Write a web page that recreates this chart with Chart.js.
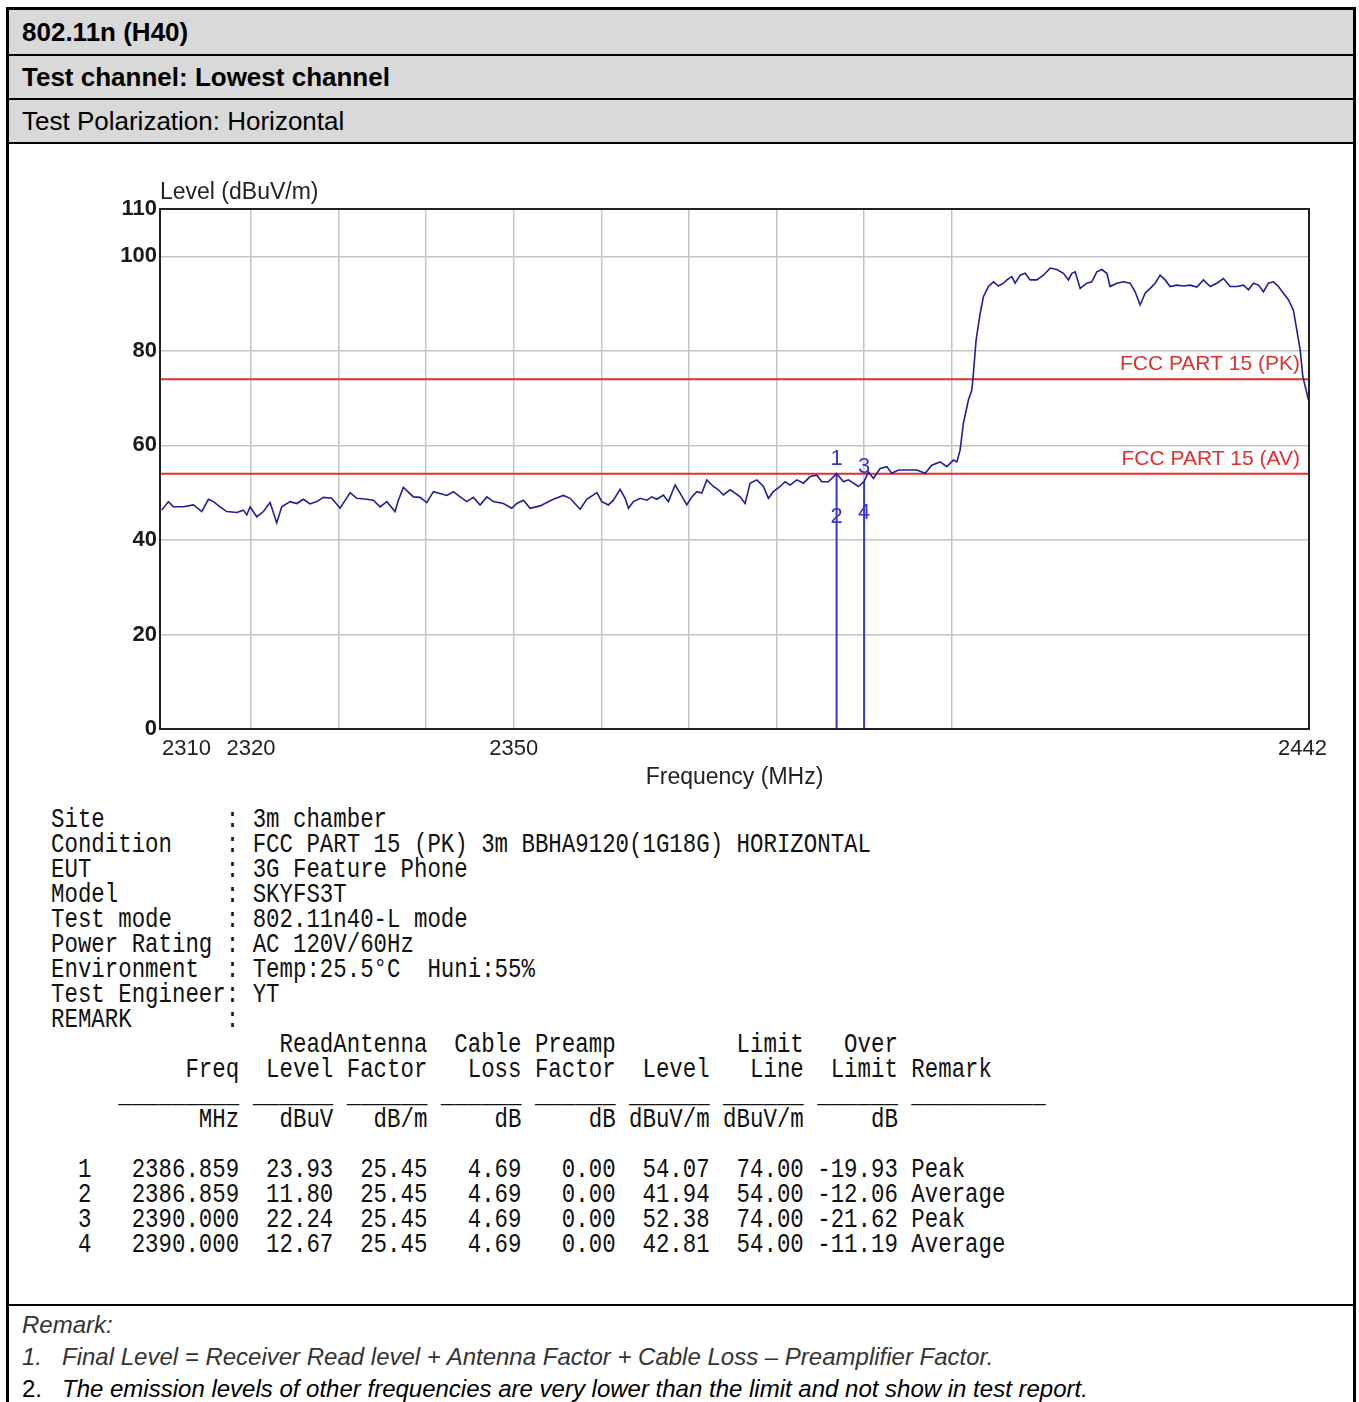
<!DOCTYPE html>
<html>
<head>
<meta charset="utf-8">
<script src="https://cdn.jsdelivr.net/npm/chart.js@4.4.1/dist/chart.umd.min.js"></script>
<style>
html,body{margin:0;padding:0;background:#fff;}
body{width:1359px;height:1402px;position:relative;overflow:hidden;font-family:"Liberation Sans",Arial,sans-serif;color:#000;}
.bar{position:absolute;background:#000;}
.gray{position:absolute;left:9px;width:1344px;background:#d9d9d9;box-sizing:border-box;padding-left:13px;font-size:26px;white-space:nowrap;}
#chartBox{position:absolute;left:0;top:150px;width:1359px;height:650px;}
#info{position:absolute;left:51px;top:807px;margin:0;font-family:"Liberation Mono",monospace;font-size:28px;line-height:25px;color:#111;transform:scaleX(0.8);transform-origin:0 0;white-space:pre;}
.rm{position:absolute;font-size:24px;font-style:italic;white-space:nowrap;line-height:30px;}
</style>
</head>
<body>
<div class="bar" style="left:6px;top:7px;width:3px;height:1395px;"></div>
<div class="bar" style="left:1353px;top:7px;width:3px;height:1395px;"></div>
<div class="bar" style="left:6px;top:7px;width:1350px;height:3px;"></div>
<div class="gray" style="top:10px;height:44px;line-height:44px;font-weight:bold;">802.11n (H40)</div>
<div class="bar" style="left:6px;top:54px;width:1350px;height:2px;"></div>
<div class="gray" style="top:56px;height:42px;line-height:42px;font-weight:bold;">Test channel: Lowest channel</div>
<div class="bar" style="left:6px;top:98px;width:1350px;height:2px;"></div>
<div class="gray" style="top:100px;height:42px;line-height:42px;">Test Polarization: Horizontal</div>
<div class="bar" style="left:6px;top:142px;width:1350px;height:2px;"></div>
<div class="bar" style="left:6px;top:1304px;width:1350px;height:2px;"></div>

<div id="chartBox"><canvas id="c" width="1359" height="650"></canvas></div>
<pre id="info"></pre>

<div class="rm" style="left:22px;top:1310px;color:#333;">Remark:</div>
<div class="rm" style="left:22px;top:1342px;color:#333;">1.</div>
<div class="rm" style="left:62px;top:1342px;color:#333;">Final Level = Receiver Read level + Antenna Factor + Cable Loss – Preamplifier Factor.</div>
<div class="rm" style="left:22px;top:1374px;font-style:normal;">2.</div>
<div class="rm" style="left:62px;top:1374px;">The emission levels of other frequencies are very lower than the limit and not show in test report.</div>

<script>
// ---------------- data ----------------
const freqs = [2309.80,2310.56,2311.13,2312.27,2313.41,2314.37,2315.13,2315.70,2316.46,2317.22,
2318.37,2319.12,2319.51,2319.89,2320.65,2321.41,2322.17,2322.93,2323.50,2324.45,
2325.22,2325.97,2326.74,2327.50,2328.26,2329.21,2330.16,2331.31,2332.07,2333.21,
2333.97,2334.73,2335.50,2336.44,2336.82,2337.39,2338.53,2339.30,2340.06,2340.82,
2341.58,2342.35,2343.10,2343.87,2344.63,2345.39,2346.15,2346.92,2347.67,2348.81,
2349.77,2350.34,2351.10,2351.86,2353.00,2353.77,2354.52,2355.66,2356.43,2357.57,
2358.33,2359.48,
2360.05,2360.80,2361.37,2362.14,2362.71,2363.09,2363.66,2364.42,2365.19,2365.76,
2366.33,2367.08,2367.65,2368.42,2368.99,2369.75,2370.33,2370.90,2371.47,2372.04,
2372.79,2373.36,2373.93,2374.70,2375.27,2375.84,2376.41,2376.98,2377.75,2378.50,
2379.07,2379.64,2380.41,2380.98,2381.55,2382.32,2383.07,2383.84,2384.60,2385.17,
2385.92,2386.69,2386.86,2387.64,2388.21,2388.78,2389.35,2390.00,2390.49,2391.06,
2391.83,2392.59,2393.16,2393.92,2394.88,2396.02,2396.97,2397.73,2398.68,2399.45,
2400.20,2400.59,
2400.96,2401.34,2401.91,2402.30,2402.48,2402.79,2403.25,2403.63,2404.20,2404.77,
2405.34,2405.91,2406.30,2406.87,2407.24,2407.82,2408.39,2408.96,2409.72,2410.48,
2411.24,2412.01,2412.76,2413.33,2413.72,2414.10,2414.67,2415.43,2416.00,2416.57,
2417.14,2417.72,2418.09,2418.86,2419.61,2420.38,2420.95,2421.52,2422.09,2422.66,
2423.23,2423.80,2424.37,2424.94,2425.71,2426.47,2427.23,2427.99,2428.75,2429.52,
2430.28,2431.03,2431.80,2432.56,2433.32,2433.89,2434.46,2435.03,2435.60,2436.17,
2436.74,2437.31,2437.88,2438.45,2439.02,2439.41,2439.79,2440.10,2440.47,2440.74];

const levels = [46.3,48.1,47.0,47.0,47.4,46.0,48.6,48.1,47.0,46.0,
45.8,46.3,45.3,47.0,44.9,46.0,47.9,43.6,47.0,48.1,
47.7,48.6,47.6,48.1,49.0,48.8,46.7,50.0,48.8,48.6,
48.4,47.0,48.1,46.0,48.4,51.1,49.1,49.0,47.9,50.2,
49.8,49.4,50.2,49.1,48.1,49.0,47.4,49.1,48.1,47.7,
46.7,47.7,48.4,46.7,47.2,47.9,48.6,49.4,48.8,46.5,
48.6,50.0,
48.1,47.4,48.4,50.7,48.8,46.7,48.1,48.8,48.4,49.1,
48.6,49.5,48.1,51.6,49.9,47.4,49.1,50.2,49.9,52.7,
51.3,50.6,49.5,50.6,49.9,49.1,47.7,52.0,52.7,51.3,
48.8,50.2,51.3,52.3,51.6,52.7,52.0,53.4,53.7,52.3,
52.3,53.7,54.07,52.3,52.7,52.0,51.3,52.38,54.4,53.0,
55.1,55.5,54.1,54.8,54.8,54.8,54.1,55.8,56.5,55.5,
56.9,56.5,
59.0,64.7,69.6,71.7,75.2,82.3,87.9,91.5,93.6,94.6,
93.7,94.3,95.0,95.7,94.3,96.0,96.4,95.0,95.0,96.0,
97.5,97.2,96.4,95.0,96.4,96.7,93.2,94.3,94.6,96.7,
97.2,96.4,93.6,94.3,94.6,94.3,92.5,89.7,92.2,93.2,
94.3,96.0,95.0,93.6,93.9,93.7,93.9,93.5,95.0,93.6,
94.3,95.3,93.6,93.6,93.9,92.9,94.3,93.9,92.5,94.3,
94.6,93.6,92.2,90.8,88.6,84.4,80.2,74.5,71.7,69.6];

const limitNames  = ['FCC PART 15 (PK)','FCC PART 15 (AV)'];
const limitValues = [74, 54];

const markerNo     = [1, 2, 3, 4];
const markerFreq   = [2386.859, 2386.859, 2390.000, 2390.000];
const markerRead   = [23.93, 11.80, 22.24, 12.67];
const markerAnt    = [25.45, 25.45, 25.45, 25.45];
const markerCable  = [4.69, 4.69, 4.69, 4.69];
const markerPreamp = [0.00, 0.00, 0.00, 0.00];
const markerLevel  = [54.07, 41.94, 52.38, 42.81];
const markerLimit  = [74.00, 54.00, 74.00, 54.00];
const markerOver   = [-19.93, -12.06, -21.62, -11.19];
const markerRemark = ['Peak','Average','Peak','Average'];

const xMin = 2309.6, xMax = 2440.8;
const gridFreqs = [2320,2330,2340,2350,2360,2370,2380,2390,2400];
const xLabelValues = [2310, 2320, 2350, 2442];
const xLabelTexts  = ['2310','2320','2350','2442'];
const yTicks = [0,20,40,60,80,100,110];
const yTitle = 'Level (dBuV/m)';
const xTitle = 'Frequency (MHz)';

const infoLines = [
 ['Site','3m chamber'],
 ['Condition','FCC PART 15 (PK) 3m BBHA9120(1G18G) HORIZONTAL'],
 ['EUT','3G Feature Phone'],
 ['Model','SKYFS3T'],
 ['Test mode','802.11n40-L mode'],
 ['Power Rating','AC 120V/60Hz'],
 ['Environment','Temp:25.5°C  Huni:55%'],
 ['Test Engineer','YT'],
 ['REMARK','']
];

// ---------------- text block ----------------
const SANS = '"Liberation Sans", Arial, sans-serif';
(function(){
  const L = [];
  infoLines.forEach(([k,v]) => L.push(k.padEnd(13) + ':' + (v ? ' ' + v : '')));
  L.push(' '.repeat(17) + 'ReadAntenna  Cable Preamp' + ' '.repeat(9) + 'Limit   Over');
  L.push(' '.repeat(10) + 'Freq  Level Factor   Loss Factor  Level   Line  Limit Remark');
  L.push(' '.repeat(5) + '_'.repeat(9) + (' ' + '_'.repeat(6)).repeat(7) + ' ' + '_'.repeat(10));
  L.push(' '.repeat(11) + 'MHz' + ['dBuV','dB/m','dB','dB','dBuV/m','dBuV/m','dB'].map(u => u.padStart(7)).join(''));
  L.push('');
  markerNo.forEach((n,i) => {
    const f = v => ' ' + v.toFixed(2).padStart(6);
    L.push('  ' + n + '   ' + markerFreq[i].toFixed(3) +
      f(markerRead[i]) + f(markerAnt[i]) + f(markerCable[i]) + f(markerPreamp[i]) +
      f(markerLevel[i]) + f(markerLimit[i]) + f(markerOver[i]) + ' ' + markerRemark[i]);
  });
  document.getElementById('info').textContent = L.join('\n');
})();

// ---------------- chart ----------------
const overlay = {
  id: 'overlay',
  afterDraw(chart) {
    const {ctx, chartArea: a, scales: {x, y}} = chart;
    ctx.save();
    ctx.strokeStyle = '#222'; ctx.lineWidth = 2;
    ctx.strokeRect(a.left, a.top, a.right - a.left, a.bottom - a.top);

    ctx.fillStyle = '#222'; ctx.textBaseline = 'middle';
    ctx.font = '23px ' + SANS; ctx.textAlign = 'left';
    ctx.fillText(yTitle, a.left, a.top - 16);

    ctx.font = '22px ' + SANS;
    xLabelValues.forEach((v, i) => {
      let px = x.getPixelForValue(v), al = 'center';
      if (i === 0) { px = a.left + 2; al = 'left'; }
      else if (i === xLabelValues.length - 1) { px = a.right + 18; al = 'right'; }
      ctx.textAlign = al;
      ctx.fillText(xLabelTexts[i], px, a.bottom + 20);
    });
    ctx.textAlign = 'center'; ctx.font = '23px ' + SANS;
    ctx.fillText(xTitle, (a.left + a.right) / 2, a.bottom + 49);

    ctx.fillStyle = '#e0302f'; ctx.font = '21px ' + SANS; ctx.textAlign = 'right';
    limitNames.forEach((n, i) => ctx.fillText(n, a.right - 9, y.getPixelForValue(limitValues[i]) - 15));

    ctx.fillStyle = '#3838c8'; ctx.font = '22px ' + SANS; ctx.textAlign = 'center';
    markerNo.forEach((n, i) => ctx.fillText(String(n), x.getPixelForValue(markerFreq[i]), y.getPixelForValue(markerLevel[i]) - 14));
    ctx.restore();
  }
};

const datasets = [{
  data: freqs.map((f, i) => ({x: f, y: levels[i]})),
  borderColor: '#1f1f99', borderWidth: 1.6, pointRadius: 0, tension: 0
}];
limitValues.forEach(v => datasets.push({
  data: [{x: xMin, y: v}, {x: xMax, y: v}],
  borderColor: '#e0302f', borderWidth: 2, pointRadius: 0
}));
[...new Set(markerFreq)].forEach(f => {
  const top = Math.max(...markerLevel.filter((_, i) => markerFreq[i] === f));
  datasets.push({data: [{x: f, y: top}, {x: f, y: 0}], borderColor: '#3838c8', borderWidth: 2, pointRadius: 0});
});

new Chart(document.getElementById('c'), {
  type: 'line',
  data: {datasets},
  options: {
    responsive: false, animation: false, events: [],
    layout: {padding: {left: 120, top: 59, right: 50, bottom: 71}},
    plugins: {legend: {display: false}, tooltip: {enabled: false}},
    scales: {
      x: {
        type: 'linear', min: xMin, max: xMax,
        afterBuildTicks: s => { s.ticks = gridFreqs.map(v => ({value: v})); },
        afterFit: s => { s.height = 0; },
        ticks: {display: false},
        grid: {color: '#c4c4c4', lineWidth: 1.5, drawTicks: false},
        border: {display: false}
      },
      y: {
        min: 0, max: 110,
        afterBuildTicks: s => { s.ticks = yTicks.map(v => ({value: v})); },
        afterFit: s => { s.width = 40; },
        ticks: {font: {family: SANS, size: 22, weight: 'bold'}, color: '#1a1a1a', padding: 3},
        grid: {drawTicks: false, lineWidth: 1.5,
               color: c => (c.tick.value === 0 || c.tick.value === 110) ? 'rgba(0,0,0,0)' : '#c4c4c4'},
        border: {display: false}
      }
    }
  },
  plugins: [overlay]
});
</script>
</body>
</html>
